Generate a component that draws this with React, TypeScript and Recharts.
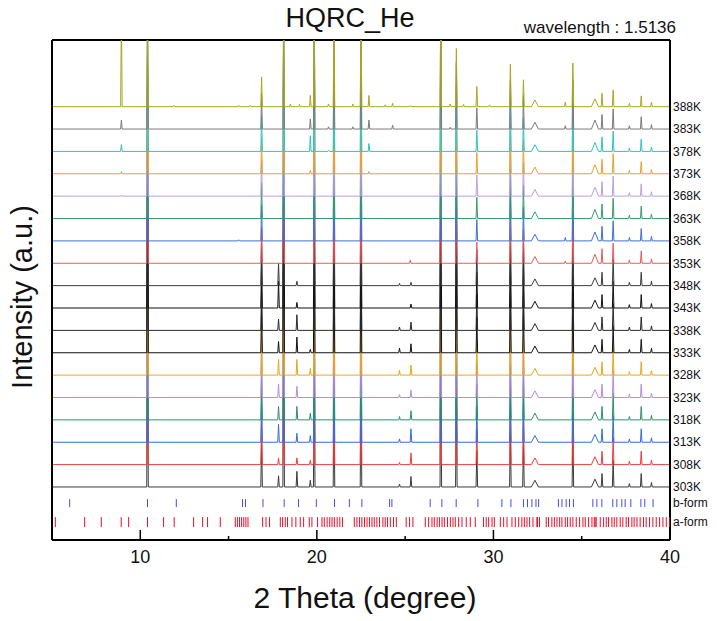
import React from "react";
import {
  ComposedChart,
  Line,
  Scatter,
  XAxis,
  YAxis,
  ReferenceLine,
} from "recharts";

const FONT = "'Liberation Sans', Arial, sans-serif";

// traces, bottom to top
const temps = ["303K", "308K", "313K", "318K", "323K", "328K", "333K", "338K", "343K", "348K", "353K", "358K", "363K", "368K", "373K", "378K", "383K", "388K"];
const traceColors = ["#3a3a3a", "#e8403c", "#2f6fdc", "#2e8f6a", "#b48ce6", "#e8a81c", "#111111", "#2a2a2a", "#111111", "#3c3c3c", "#e85a5a", "#3d6fd6", "#3a9a6e", "#b8a0e0", "#e6a32a", "#2cc4c4", "#7a7a7a", "#a8a820"];

// peaks shared by every trace (2θ)
const mainPeaks = [10.41, 16.87, 18.12, 19.85, 20.97, 22.5, 27.02, 27.9, 29.06, 30.96, 31.7, 32.35, 34.5, 35.75, 36.15, 36.78, 37.7, 38.37, 38.95];
const broadPeaks = [32.35, 35.75];
// heights in trace-offset units
const heightsCool = [6, 2.0, 6, 5, 4, 5, 7, 4, 1.6, 2.5, 2.0, 0.3, 2.5, 0.35, 0.6, 1.2, 0.15, 0.6, 0.2]; // 303K-348K
const heightsHot = [5, 1.6, 5, 5, 4, 5, 6, 3, 0.95, 2.2, 1.5, 0.3, 2.2, 0.4, 0.65, 0.9, 0.15, 0.55, 0.2]; // 353K-383K
const heights388 = [4.5, 1.33, 4.5, 4.5, 4.0, 4.5, 5.0, 2.6, 0.9, 1.9, 1.2, 0.3, 1.95, 0.35, 0.6, 0.75, 0.15, 0.48, 0.2];

// extra peaks per trace: [2θ, height]
const extraPeaks: Record<string, [number, number][]> = {
  "303K": [[17.83, 0.5], [18.87, 0.7], [19.63, 0.3], [24.68, 0.13], [25.33, 0.47]],
  "308K": [[17.83, 0.3], [18.87, 0.3], [19.63, 0.2], [24.68, 0.1], [25.33, 0.52]],
  "313K": [[17.83, 0.8], [18.87, 0.4], [19.63, 0.3], [24.68, 0.15], [25.33, 0.6]],
  "318K": [[17.83, 0.6], [18.87, 0.6], [19.63, 0.3], [24.68, 0.15], [25.33, 0.41]],
  "323K": [[17.83, 0.6], [18.87, 0.5], [24.68, 0.13], [25.33, 0.33]],
  "328K": [[17.83, 0.7], [18.87, 0.7], [19.63, 0.3], [24.68, 0.22], [25.33, 0.45]],
  "333K": [[17.83, 0.5], [18.87, 0.7], [19.63, 0.15], [24.68, 0.2], [25.33, 0.4]],
  "338K": [[17.83, 0.5], [18.87, 0.7], [24.68, 0.15], [25.33, 0.37]],
  "343K": [[17.83, 1.2], [18.87, 0.25], [25.33, 0.18]],
  "348K": [[17.83, 1.0], [18.87, 0.2], [24.68, 0.1], [25.33, 0.15]],
  "353K": [[25.29, 0.15], [34.07, 0.1]],
  "358K": [[15.57, 0.05], [34.07, 0.15]],
  "363K": [],
  "368K": [[8.93, 0.05]],
  "373K": [[8.93, 0.1], [19.63, 0.15], [22.95, 0.1]],
  "378K": [[8.93, 0.3], [19.63, 0.7], [20.66, 0.05], [22.95, 0.35]],
  "383K": [[8.93, 0.4], [19.63, 0.45], [20.66, 0.1], [22.04, 0.1], [22.95, 0.4], [24.29, 0.18], [27.55, 0.08], [34.07, 0.15]],
  "388K": [[8.93, 4], [11.89, 0.06], [15.57, 0.06], [16.23, 0.06], [18.5, 0.12], [19.02, 0.1], [19.63, 0.5], [20.66, 0.12], [22.04, 0.12], [22.95, 0.5], [23.87, 0.08], [24.29, 0.15], [25.29, 0.05], [27.55, 0.12], [28.31, 0.1], [29.78, 0.08], [34.07, 0.2]],
};

// reference reflections
const bForm = [6.0, 10.41, 12.04, 15.79, 15.96, 16.95, 18.15, 18.96, 19.97, 21.0, 21.84, 22.55, 24.12, 24.25, 26.42, 27.08, 27.89, 29.12, 30.48, 30.99, 31.7, 31.93, 32.18, 32.41, 32.56, 33.68, 33.88, 34.12, 34.31, 34.53, 35.63, 35.86, 36.14, 36.76, 36.99, 37.27, 37.46, 37.78, 38.35, 38.57, 39.04];
const aForm = [
  5.19, 6.85, 7.79, 8.92, 9.34, 10.41, 11.32, 11.92, 13.02, 13.53, 13.81, 14.53,
  15.38, 15.5, 15.62, 15.74, 15.86, 15.98, 16.1, 16.93, 17.12, 17.32,
  17.93, 18.06, 18.21, 18.34, 18.59, 18.81, 19.06, 19.25, 19.57, 19.72, 20.04,
  20.29, 20.42, 20.58, 20.73, 20.86, 20.99, 21.15, 21.3, 21.45,
  22.12, 22.27, 22.42, 22.55, 22.7, 22.84, 22.98, 23.12, 23.25, 23.4, 23.55, 23.74, 23.87, 24.0, 24.16, 24.34, 24.5,
  25.06, 25.25, 25.44, 26.14, 26.33, 26.52, 26.65, 26.81, 26.94, 27.09, 27.22,
  27.4, 27.56, 27.71, 27.84, 28.03, 28.22, 28.46, 28.69, 28.97, 29.44, 29.59, 29.73, 29.92, 30.05,
  30.39, 30.58, 30.77, 31.05, 31.24, 31.43, 31.61, 31.75, 31.9, 32.05, 32.24, 32.46, 32.5, 32.61,
  32.99, 33.12, 33.31, 33.45, 33.6, 33.75, 33.88, 34.07, 34.2, 34.35, 34.5, 34.69, 34.88, 35.07, 35.2, 35.39, 35.58, 35.71, 35.76, 35.82,
  36.05, 36.24, 36.39, 36.52, 36.71, 36.84, 36.99, 37.18, 37.33, 37.52, 37.65, 37.84, 37.97, 38.13, 38.31, 38.5, 38.65, 38.84, 39.03, 39.22, 39.41, 39.6, 39.79, 39.98,
];

const Y_MAX = 22.35;
const BASE0 = 2.37; // 303K baseline
const B_ROW = 1.65;
const A_ROW = 0.8;

function buildTrace(i: number) {
  const name = temps[i];
  const base = BASE0 + i;
  const hs = name === "388K" ? heights388 : i >= 10 ? heightsHot : heightsCool;
  const peaks: [number, number][] = mainPeaks.map((p, k) => [p, hs[k]]);
  peaks.push(...extraPeaks[name]);
  peaks.sort((a, b) => a[0] - b[0]);
  const pts = [{ x: 5, y: base }];
  for (const [p, h] of peaks) {
    const w = broadPeaks.includes(p) ? 0.2 : 0.045;
    pts.push({ x: p - w, y: base }, { x: p, y: base + h }, { x: p + w, y: base });
  }
  pts.push({ x: 40, y: base });
  return pts;
}

const traces = temps.map((_, i) => buildTrace(i));
const bRows = bForm.map((x) => ({ x, y: B_ROW }));
const aRows = aForm.map((x) => ({ x, y: A_ROW }));

const rightTicks = [A_ROW, B_ROW, ...temps.map((_, i) => BASE0 + i)];
const rightLabels = ["a-form", "b-form", ...temps];

const XTick = (props: any) => {
  const { x, y, payload } = props;
  const v = payload.value as number;
  const major = v % 10 === 0;
  return (
    <g>
      {v < 40 && (
        <line x1={x} x2={x} y1={y} y2={y - (major ? 10 : 4)} stroke="#000" strokeWidth={1.5} />
      )}
      {major && (
        <text x={x} y={y + 23} textAnchor="middle" fontSize={18} fill="#111" fontFamily={FONT}>
          {v}
        </text>
      )}
    </g>
  );
};

const BTick = (p: any) => (
  <line x1={p.cx} x2={p.cx} y1={p.cy - 4} y2={p.cy + 4} stroke="#4b4be2" strokeWidth={1} />
);
const ATick = (p: any) => (
  <line x1={p.cx} x2={p.cx} y1={p.cy - 5} y2={p.cy + 5} stroke="#e8102a" strokeWidth={1} />
);

export default function App() {
  return (
    <div style={{ position: "absolute", left: 0, top: 0, width: 717, height: 621, background: "#fff", fontFamily: FONT }}>
      <ComposedChart width={717} height={621} margin={{ top: 40, right: 0, bottom: 0, left: 0 }}>
        <XAxis
          dataKey="x"
          type="number"
          domain={[5, 40]}
          allowDataOverflow
          ticks={[10, 15, 20, 25, 30, 35, 40]}
          tick={<XTick />}
          tickLine={false}
          tickSize={0}
          tickMargin={0}
          height={81}
          axisLine={{ stroke: "#000", strokeWidth: 2 }}
          label={() => (
            <text x={365} y={608} textAnchor="middle" fontSize={30} fill="#111" fontFamily={FONT}>
              2 Theta (degree)
            </text>
          )}
        />
        <YAxis
          yAxisId="l"
          type="number"
          domain={[0, Y_MAX]}
          allowDataOverflow
          width={52}
          tick={false}
          tickLine={false}
          axisLine={{ stroke: "#000", strokeWidth: 2 }}
          label={() => (
            <text
              x={32}
              y={297}
              transform="rotate(-90 32 297)"
              textAnchor="middle"
              fontSize={29}
              fill="#111"
              fontFamily={FONT}
            >
              Intensity (a.u.)
            </text>
          )}
        />
        <YAxis
          yAxisId="r"
          orientation="right"
          type="number"
          domain={[0, Y_MAX]}
          allowDataOverflow
          width={47}
          ticks={rightTicks}
          interval={0}
          tickSize={0}
          tickMargin={3}
          tickLine={false}
          axisLine={{ stroke: "#000", strokeWidth: 2 }}
          tick={{ fontSize: 12, fill: "#111", fontFamily: FONT }}
          tickFormatter={(v: number) => {
            const k = rightTicks.findIndex((t) => Math.abs(t - v) < 1e-6);
            return k >= 0 ? rightLabels[k] : "";
          }}
        />
        <ReferenceLine yAxisId="l" y={Y_MAX} stroke="#000" strokeWidth={2} />
        {traces.map((data, i) => (
          <Line
            key={temps[i]}
            yAxisId="l"
            data={data}
            dataKey="y"
            type="linear"
            stroke={traceColors[i]}
            strokeWidth={1}
            dot={false}
            activeDot={false}
            isAnimationActive={false}
          />
        ))}
        <Scatter yAxisId="r" data={bRows} dataKey="y" shape={<BTick />} isAnimationActive={false} />
        <Scatter yAxisId="r" data={aRows} dataKey="y" shape={<ATick />} isAnimationActive={false} />
      </ComposedChart>
      <div
        style={{
          position: "absolute",
          left: 350,
          top: 3,
          transform: "translateX(-50%)",
          fontSize: 27,
          lineHeight: "30px",
          color: "#111",
          whiteSpace: "nowrap",
        }}
      >
        HQRC_He
      </div>
      <div
        style={{
          position: "absolute",
          right: 717 - 676,
          top: 19,
          fontSize: 17,
          lineHeight: "18px",
          color: "#111",
          whiteSpace: "nowrap",
        }}
      >
        wavelength : 1.5136
      </div>
    </div>
  );
}
